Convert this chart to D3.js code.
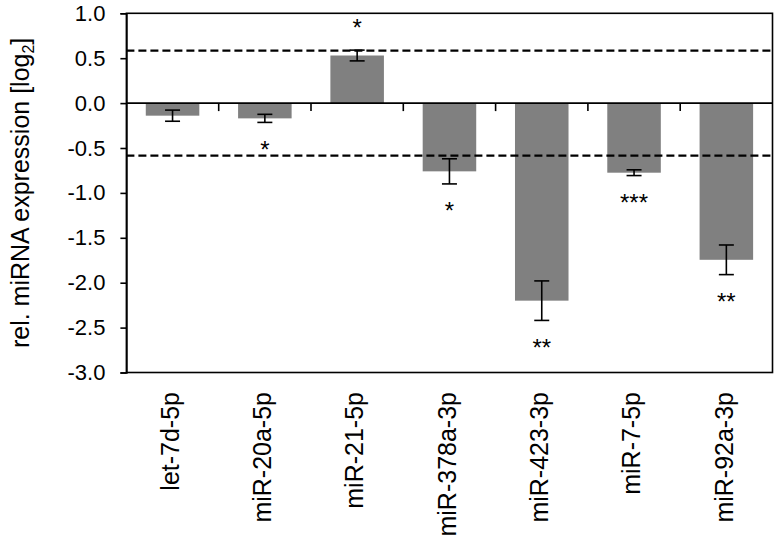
<!DOCTYPE html>
<html>
<head>
<meta charset="utf-8">
<script src="https://cdn.jsdelivr.net/npm/d3@7"></script>
<style>
  html, body { margin: 0; padding: 0; background: #fff; }
  svg { display: block; font-family: "Liberation Sans", Arial, sans-serif; }
</style>
</head>
<body>
<svg id="chart" width="777" height="545"></svg>
<script>
// ---- data ----
const categories = ["let-7d-5p", "miR-20a-5p", "miR-21-5p", "miR-378a-3p", "miR-423-3p", "miR-7-5p", "miR-92a-3p"];
const values = [-0.14, -0.17, 0.53, -0.76, -2.20, -0.775, -1.745];
const errors = [0.062, 0.045, 0.06, 0.14, 0.22, 0.032, 0.165];
const significance = ["", "*", "*", "*", "**", "***", "**"];
const yTicks = [1.0, 0.5, 0.0, -0.5, -1.0, -1.5, -2.0, -2.5, -3.0];
const thresholds = [0.585, -0.585];
const yLabel = "rel. miRNA expression [log";

// ---- layout ----
const svg = d3.select("#chart");
const pL = 126.4, pR = 772.5, pT = 13.3, pB = 372.5;

const x = d3.scaleBand().domain(categories).range([pL, pR]).paddingInner(0.42).paddingOuter(0.21);
const y = d3.scaleLinear().domain([-3, 1]).range([pB, pT]);

const data = categories.map((c, i) => ({ c, v: values[i], e: errors[i], s: significance[i] }));

// bars
svg.append("g").selectAll("rect").data(data).join("rect")
  .attr("x", d => x(d.c))
  .attr("width", x.bandwidth())
  .attr("y", d => y(Math.max(0, d.v)))
  .attr("height", d => Math.abs(y(d.v) - y(0)))
  .attr("fill", "#808080");

// threshold dashed lines
svg.append("g").selectAll("line").data(thresholds).join("line")
  .attr("x1", pL).attr("x2", pR)
  .attr("y1", d => y(d)).attr("y2", d => y(d))
  .attr("stroke", "#000").attr("stroke-width", 2.2)
  .attr("stroke-dasharray", "8,4");

// error bars
const eb = svg.append("g").attr("stroke", "#000").attr("stroke-width", 1.6);
data.forEach(d => {
  const cx = x(d.c) + x.bandwidth() / 2;
  eb.append("line").attr("x1", cx).attr("x2", cx).attr("y1", y(d.v + d.e)).attr("y2", y(d.v - d.e));
  eb.append("line").attr("x1", cx - 7.5).attr("x2", cx + 7.5).attr("y1", y(d.v + d.e)).attr("y2", y(d.v + d.e));
  eb.append("line").attr("x1", cx - 7.5).attr("x2", cx + 7.5).attr("y1", y(d.v - d.e)).attr("y2", y(d.v - d.e));
});

// significance stars
svg.append("g").selectAll("text").data(data.filter(d => d.s)).join("text")
  .attr("x", d => x(d.c) + x.bandwidth() / 2)
  .attr("y", d => d.v >= 0 ? y(d.v + d.e) - 31 : y(d.v - d.e) + 18)
  .attr("dy", "0.72em")
  .attr("text-anchor", "middle")
  .attr("font-size", 24)
  .attr("fill", "#000")
  .text(d => d.s);

// plot box
svg.append("rect").attr("x", pL).attr("y", pT)
  .attr("width", pR - pL).attr("height", pB - pT)
  .attr("fill", "none").attr("stroke", "#000").attr("stroke-width", 1.6);

// zero line with category separator ticks
svg.append("line").attr("x1", pL).attr("x2", pR).attr("y1", y(0)).attr("y2", y(0))
  .attr("stroke", "#000").attr("stroke-width", 1.6);
const sepTicks = categories.slice(1).map(c => x(c) - x.step() * x.paddingInner() / 2);
svg.append("g").selectAll("line").data(sepTicks).join("line")
  .attr("x1", d => d).attr("x2", d => d)
  .attr("y1", y(0)).attr("y2", y(0) + 8)
  .attr("stroke", "#000").attr("stroke-width", 1.6);

// y axis
const yAxis = d3.axisLeft(y).tickValues(yTicks).tickFormat(d => d3.format(".1f")(d).replace("−", "-")).tickSize(6).tickPadding(15);
const ga = svg.append("g").attr("transform", `translate(${pL},0)`).call(yAxis);
ga.select(".domain").attr("stroke-width", 1.6);
ga.selectAll(".tick line").attr("stroke-width", 1.6);
ga.selectAll(".tick text").attr("font-size", 22).attr("fill", "#000")
  .attr("font-family", '"Liberation Sans", Arial, sans-serif');

// category labels (rotated)
svg.append("g").selectAll("text").data(categories).join("text")
  .attr("transform", d => `translate(${x(d) + x.bandwidth() / 2},392) rotate(-90)`)
  .attr("text-anchor", "end")
  .attr("dy", "0.25em")
  .attr("font-size", 25)
  .attr("fill", "#000")
  .text(d => d);

// y axis title
const yt = svg.append("text")
  .attr("transform", `translate(21,${(pT + pB) / 2}) rotate(-90)`)
  .attr("text-anchor", "middle")
  .attr("dy", "0.3em")
  .attr("font-size", 25)
  .attr("fill", "#000");
yt.append("tspan").text(yLabel);
yt.append("tspan").attr("font-size", 16).attr("dy", "0.35em").text("2");
yt.append("tspan").attr("dy", "-0.22em").text("]");
</script>
</body>
</html>
